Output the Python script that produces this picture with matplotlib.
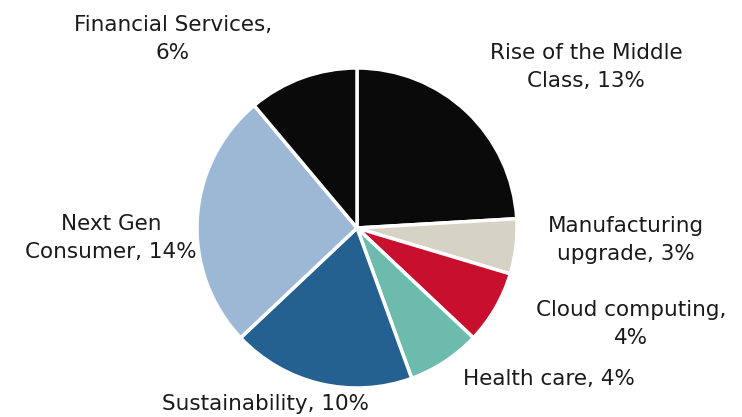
import matplotlib.pyplot as plt

etiquetas = ["Rise of the Middle\nClass, 13%", "Manufacturing\nupgrade, 3%", "Cloud computing,\n4%",
             "Health care, 4%", "Sustainability, 10%", "Next Gen\nConsumer, 14%", "Financial Services,\n6%"]
valores = [13, 3, 4, 4, 10, 14, 6]
colores = ["#0a0a0a", "#d6d3c4", "#c8102e", "#6cbbad", "#246190", "#9db8d5", "#0a0a0a"]

# donde va cada etiqueta (pixeles del centro del texto)
pos_etiquetas = [(586, 67), (626, 240), (631, 324), (549, 379), (265, 404), (111, 238), (173, 39)]

W, H = 742, 417
fig = plt.figure(figsize=(W / 100, H / 100), dpi=100)
cx, cy, r = 357, 228, 160
ax = fig.add_axes([(cx - r) / W, (H - cy - r) / H, 2 * r / W, 2 * r / H])
ax.pie(valores, colors=colores, startangle=90, counterclock=False,
       wedgeprops={"edgecolor": "white", "linewidth": 2.5})
ax.set_xlim(-1, 1)
ax.set_ylim(-1, 1)

for texto, (px, py) in zip(etiquetas, pos_etiquetas):
    fig.text(px / W, 1 - py / H, texto, ha="center", va="center", fontsize=15.5,
             family="DejaVu Sans", color="#1a1a1a", linespacing=1.45)

fig.savefig("out.png", dpi=100)
